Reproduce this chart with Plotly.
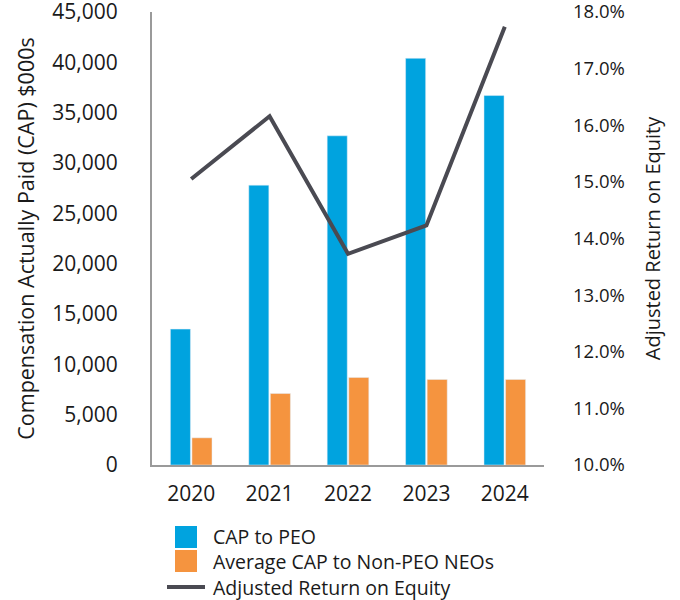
import plotly.graph_objects as go

years = ["2020", "2021", "2022", "2023", "2024"]
cap_peo = [13500, 27800, 32700, 40400, 36700]
cap_non_peo = [2700, 7100, 8700, 8500, 8500]
adj_roe = [15.05, 16.16, 13.73, 14.23, 17.74]

names = ["CAP to PEO", "Average CAP to Non-PEO NEOs", "Adjusted Return on Equity"]
blue = "#00A3DF"
orange = "#F5943F"
grey = "#4A4A52"
FONT = "Open Sans"

W, H = 680, 600
PL, PR, PT, PB = 152, 544, 12, 465


def px(x):
    return (x - PL) / (PR - PL)


def py(y):
    return (PB - y) / (PB - PT)


fig = go.Figure()
fig.add_trace(go.Bar(x=years, y=cap_peo, name=names[0], marker_color=blue,
                     showlegend=False, yaxis="y"))
fig.add_trace(go.Bar(x=years, y=cap_non_peo, name=names[1], marker_color=orange,
                     showlegend=False, yaxis="y"))
fig.add_trace(go.Scatter(x=years, y=adj_roe, name=names[2], mode="lines",
                         line=dict(color=grey, width=4), showlegend=False, yaxis="y2"))

# legend (drawn as swatches + one multi-line label block)
shapes = [
    dict(type="rect", xref="paper", yref="paper", x0=px(175), x1=px(197),
         y0=py(548), y1=py(526), fillcolor=blue, line=dict(width=0)),
    dict(type="rect", xref="paper", yref="paper", x0=px(175), x1=px(197),
         y0=py(572), y1=py(550), fillcolor=orange, line=dict(width=0)),
    dict(type="line", xref="paper", yref="paper", x0=px(167), x1=px(205),
         y0=py(587), y1=py(587), line=dict(color=grey, width=4)),
]
annotations = [
    dict(text="<br>".join(names), xref="paper", yref="paper", x=px(211), y=py(561.5),
         xanchor="left", yanchor="middle", align="left", showarrow=False,
         font=dict(size=19.5))
]

fig.update_layout(
    width=W, height=H,
    margin=dict(l=PL, r=W - PR, t=PT, b=H - PB, autoexpand=False),
    paper_bgcolor="white", plot_bgcolor="white",
    font=dict(family=FONT, size=20, color="#1a1a1a"),
    showlegend=False,
    barmode="group", bargap=0.45, bargroupgap=0.07,
    xaxis=dict(type="category", showgrid=False, showline=True, linecolor="#9a9a9a",
               linewidth=2, ticks="", tickfont=dict(size=21), ticklabelstandoff=9,
               range=[-0.5, 4.5], automargin=False),
    yaxis=dict(range=[0, 45000], dtick=5000, tickformat=",", showgrid=False,
               showline=True, linecolor="#9a9a9a", linewidth=2, ticks="",
               zeroline=False, tickfont=dict(size=21), ticklabelstandoff=28,
               automargin=False, ticklabeloverflow="allow",
               title=dict(text="Compensation Actually Paid (CAP) $000s",
                          font=dict(size=21.5), standoff=12)),
    yaxis2=dict(range=[10, 18], dtick=1, tickformat=".1f", ticksuffix="%",
                overlaying="y", side="right", showgrid=False, showline=False,
                zeroline=False, ticks="", tickfont=dict(size=18.5), ticklabelstandoff=28,
                automargin=False, ticklabeloverflow="allow",
                title=dict(text="Adjusted Return on Equity", font=dict(size=20),
                           standoff=22)),
    shapes=shapes,
    annotations=annotations,
)

fig.write_html("out.html", config={"displayModeBar": False},
               post_script="document.body.style.margin='0';")
